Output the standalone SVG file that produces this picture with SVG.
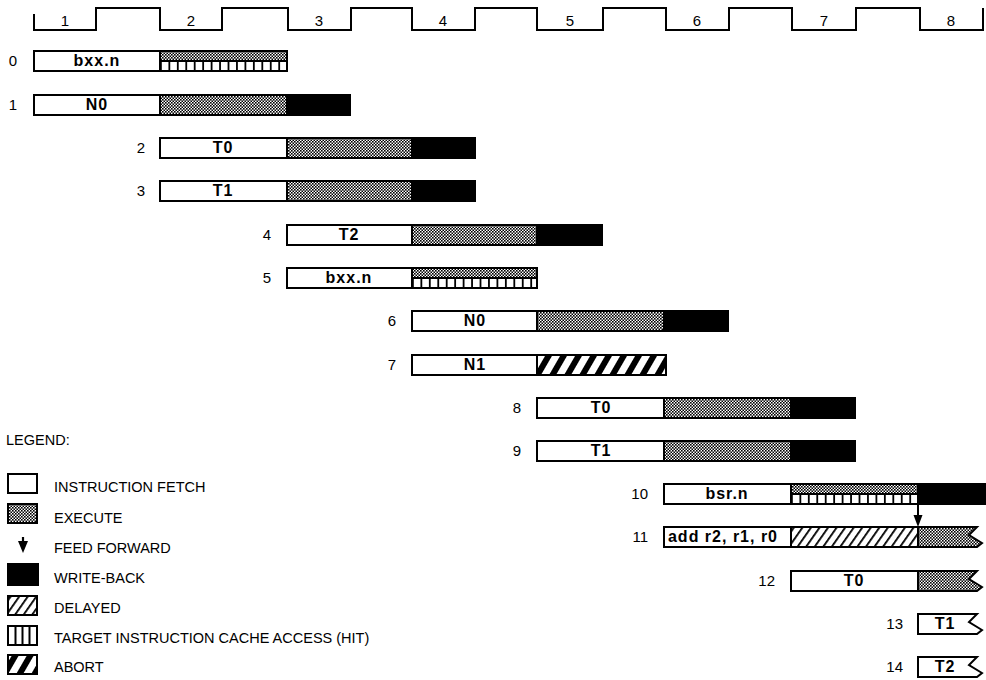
<svg xmlns="http://www.w3.org/2000/svg" width="986" height="680" viewBox="0 0 986 680">
<style>
.bg{fill:#fff}
.ln{fill:none;stroke:#000;stroke-width:2}
.seg{stroke:#000;stroke-width:2}
.f{fill:#fff}
.x{fill:url(#exec)}
.w{fill:#000}
.d{fill:url(#delay)}
.a{fill:url(#abort)}
.lab{font-family:"Liberation Sans",Arial,sans-serif;font-size:16px;font-weight:bold;text-anchor:middle;letter-spacing:1px}
.num{font-family:"Liberation Sans",Arial,sans-serif;font-size:15px;text-anchor:end}
.clk{font-family:"Liberation Sans",Arial,sans-serif;font-size:15px;text-anchor:middle}
.leg{font-family:"Liberation Sans",Arial,sans-serif;font-size:14.5px}
.cache{stroke:#000;stroke-width:10;stroke-dasharray:1.8 6.65;fill:none}
</style>
<defs>
<pattern id="exec" patternUnits="userSpaceOnUse" width="3" height="3">
<rect width="3" height="3" fill="#fff"/>
<rect width="1.6" height="1.6" fill="#000"/>
<rect x="1.5" y="1.5" width="1.6" height="1.6" fill="#000"/>
</pattern>
<pattern id="delay" patternUnits="userSpaceOnUse" width="7" height="7" patternTransform="rotate(35)">
<rect width="7" height="7" fill="#fff"/>
<rect width="1.8" height="7" fill="#000"/>
</pattern>
<pattern id="abort" patternUnits="userSpaceOnUse" width="13" height="13" patternTransform="rotate(30)">
<rect width="13" height="13" fill="#fff"/>
<rect width="6" height="13" fill="#000"/>
</pattern>
</defs>
<rect class="bg" width="986" height="680"/>

<g id="clock">
<path class="ln" d="M34,14 V30 H96 V8 H160 V30 H222 V8 H288 V30 H351 V8 H412 V30 H475 V8 H537 V30 H603 V8 H666 V30 H729 V8 H792 V30 H856 V8 H920 V30 H983 V8"/>
<text class="clk" x="65" y="26">1</text>
<text class="clk" x="191" y="26">2</text>
<text class="clk" x="319" y="26">3</text>
<text class="clk" x="443" y="26">4</text>
<text class="clk" x="570" y="26">5</text>
<text class="clk" x="697" y="26">6</text>
<text class="clk" x="824" y="26">7</text>
<text class="clk" x="951" y="26">8</text>
</g>

<g id="row0">
<text class="num" x="17" y="66">0</text>
<rect class="seg f" x="34" y="51" width="126" height="20"/>
<text class="lab" x="97" y="66">bxx.n</text>
<rect class="x" x="160" y="51" width="127" height="10"/>
<line class="cache" x1="160" y1="66" x2="287" y2="66"/>
<line class="ln" x1="160" y1="61" x2="287" y2="61"/>
<rect class="seg" fill="none" x="160" y="51" width="127" height="20"/>
</g>

<g id="row1">
<text class="num" x="17" y="110">1</text>
<rect class="seg f" x="34" y="95" width="126" height="20"/>
<text class="lab" x="97" y="110">N0</text>
<rect class="seg x" x="160" y="95" width="127" height="20"/>
<rect class="seg w" x="287" y="95" width="63" height="20"/>
</g>

<g id="row2">
<text class="num" x="145" y="153">2</text>
<rect class="seg f" x="160" y="138" width="127" height="20"/>
<text class="lab" x="223" y="153">T0</text>
<rect class="seg x" x="287" y="138" width="125" height="20"/>
<rect class="seg w" x="412" y="138" width="63" height="20"/>
</g>

<g id="row3">
<text class="num" x="145" y="196">3</text>
<rect class="seg f" x="160" y="181" width="127" height="20"/>
<text class="lab" x="223" y="196">T1</text>
<rect class="seg x" x="287" y="181" width="125" height="20"/>
<rect class="seg w" x="412" y="181" width="63" height="20"/>
</g>

<g id="row4">
<text class="num" x="271" y="240">4</text>
<rect class="seg f" x="287" y="225" width="125" height="20"/>
<text class="lab" x="349" y="240">T2</text>
<rect class="seg x" x="412" y="225" width="125" height="20"/>
<rect class="seg w" x="537" y="225" width="65" height="20"/>
</g>

<g id="row5">
<text class="num" x="271" y="283">5</text>
<rect class="seg f" x="287" y="268" width="125" height="20"/>
<text class="lab" x="349" y="283">bxx.n</text>
<rect class="x" x="412" y="268" width="125" height="10"/>
<line class="cache" x1="412" y1="283" x2="537" y2="283"/>
<line class="ln" x1="412" y1="278" x2="537" y2="278"/>
<rect class="seg" fill="none" x="412" y="268" width="125" height="20"/>
</g>

<g id="row6">
<text class="num" x="396" y="326">6</text>
<rect class="seg f" x="412" y="311" width="125" height="20"/>
<text class="lab" x="475" y="326">N0</text>
<rect class="seg x" x="537" y="311" width="127" height="20"/>
<rect class="seg w" x="664" y="311" width="64" height="20"/>
</g>

<g id="row7">
<text class="num" x="396" y="370">7</text>
<rect class="seg f" x="412" y="355" width="125" height="20"/>
<text class="lab" x="475" y="370">N1</text>
<rect class="seg a" x="537" y="355" width="129" height="20"/>
</g>

<g id="row8">
<text class="num" x="521" y="413">8</text>
<rect class="seg f" x="537" y="398" width="127" height="20"/>
<text class="lab" x="601" y="413">T0</text>
<rect class="seg x" x="664" y="398" width="127" height="20"/>
<rect class="seg w" x="791" y="398" width="64" height="20"/>
</g>

<g id="row9">
<text class="num" x="521" y="456">9</text>
<rect class="seg f" x="537" y="441" width="127" height="20"/>
<text class="lab" x="601" y="456">T1</text>
<rect class="seg x" x="664" y="441" width="127" height="20"/>
<rect class="seg w" x="791" y="441" width="64" height="20"/>
</g>

<g id="row10">
<text class="num" x="648" y="499">10</text>
<rect class="seg f" x="664" y="484" width="127" height="20"/>
<text class="lab" x="727" y="499">bsr.n</text>
<rect class="x" x="791" y="484" width="127" height="10"/>
<line class="cache" x1="791" y1="499" x2="918" y2="499"/>
<line class="ln" x1="791" y1="494" x2="918" y2="494"/>
<rect class="seg" fill="none" x="791" y="484" width="127" height="20"/>
<rect class="seg w" x="918" y="484" width="70" height="20"/>
</g>

<g id="row11">
<text class="num" x="648" y="542">11</text>
<rect class="seg f" x="664" y="527" width="127" height="20"/>
<text class="lab" x="723" y="542">add r2, r1, r0</text>
<rect class="seg d" x="791" y="527" width="127" height="20"/>
<path class="seg x" d="M918,527 H977 L969,535 L982,543 L977,547 H918 Z"/>
</g>

<g id="row12">
<text class="num" x="775" y="586">12</text>
<rect class="seg f" x="791" y="571" width="127" height="20"/>
<text class="lab" x="854" y="586">T0</text>
<path class="seg x" d="M918,571 H977 L969,579 L982,587 L977,591 H918 Z"/>
</g>

<g id="row13">
<text class="num" x="903" y="629">13</text>
<path class="seg f" d="M918,614 H977 L969,622 L982,630 L977,634 H918 Z"/>
<text class="lab" x="945" y="629">T1</text>
</g>

<g id="row14">
<text class="num" x="903" y="672">14</text>
<path class="seg f" d="M918,657 H977 L969,665 L982,673 L977,677 H918 Z"/>
<text class="lab" x="945" y="672">T2</text>
</g>

<g id="connectors">
<line x1="918" y1="504" x2="918" y2="518" stroke="#000" stroke-width="2"/>
<polygon points="913.5,515 922.5,515 918,527" fill="#000"/>
</g>

<g id="legend">
<text class="leg" x="6" y="445">LEGEND:</text>
<rect class="seg f" x="8" y="474" width="29" height="19"/>
<text class="leg" x="54" y="492">INSTRUCTION FETCH</text>
<rect class="seg x" x="8" y="504" width="29" height="19"/>
<text class="leg" x="54" y="523">EXECUTE</text>
<line x1="23" y1="537" x2="23" y2="545" stroke="#000" stroke-width="2.2"/>
<polygon points="18,541 28,541 23,553" fill="#000"/>
<text class="leg" x="54" y="553">FEED FORWARD</text>
<rect class="seg w" x="8" y="564" width="30" height="21"/>
<text class="leg" x="54" y="583">WRITE-BACK</text>
<rect class="seg d" x="8" y="596" width="29" height="19"/>
<text class="leg" x="54" y="613">DELAYED</text>
<rect class="seg f" x="8" y="626" width="29" height="19"/>
<path class="ln" d="M15.5,626 V645 M22.5,626 V645 M29.5,626 V645"/>
<text class="leg" x="54" y="643">TARGET INSTRUCTION CACHE ACCESS (HIT)</text>
<rect class="seg a" x="8" y="655" width="29" height="19"/>
<text class="leg" x="54" y="672">ABORT</text>
</g>
</svg>
